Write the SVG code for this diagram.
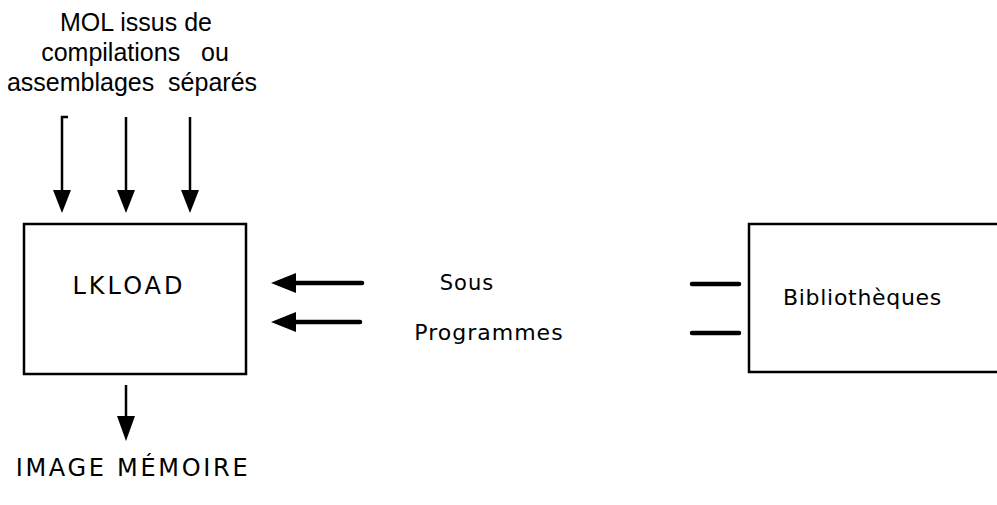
<svg xmlns="http://www.w3.org/2000/svg" width="997" height="505" viewBox="0 0 997 505">
  <style>
    .box { fill: #ffffff; stroke: #000000; stroke-width: 2.5; }
    .thin { stroke: #000000; stroke-width: 2.5; fill: none; }
    .thick { stroke: #000000; stroke-width: 4.5; fill: none; stroke-linecap: round; }
    .head { fill: #000000; }
    .arial { font-family: "Liberation Sans", Arial, sans-serif; font-size: 25px; fill: #000000; }
    .lbl { font-family: "DejaVu Sans", Verdana, sans-serif; font-size: 21px; fill: #000000; letter-spacing: 1px; }
  </style>
  <rect width="997" height="505" fill="#ffffff"/>

  <!-- input caption -->
  <g id="inputs-label">
    <text class="arial" x="136" y="31" text-anchor="middle">MOL issus de</text>
    <text class="arial" x="135" y="61" text-anchor="middle" xml:space="preserve">compilations   ou</text>
    <text class="arial" x="132" y="91" text-anchor="middle" xml:space="preserve">assemblages  séparés</text>
  </g>

  <!-- linker -->
  <g id="lkload">
    <rect class="box" x="24" y="224" width="222" height="150"/>
    <text class="lbl" x="129" y="294" text-anchor="middle" style="font-size:24px;letter-spacing:3px">LKLOAD</text>
  </g>

  <!-- libraries (box runs off the right edge) -->
  <g id="bibliotheques">
    <path class="box" d="M 999 224 L 749 224 L 749 372 L 999 372"/>
    <text class="lbl" x="783" y="305" style="font-size:22px;letter-spacing:0.7px">Bibliothèques</text>
  </g>

  <g id="sous-programmes">
    <text class="lbl" x="467" y="290" text-anchor="middle">Sous</text>
    <text class="lbl" x="489" y="340" text-anchor="middle" style="font-size:22px">Programmes</text>
  </g>

  <g id="image-memoire">
    <text class="lbl" x="133" y="476" text-anchor="middle" style="font-size:24px;letter-spacing:2.7px">IMAGE MÉMOIRE</text>
  </g>

  <!-- connectors -->
  <g id="connectors">
    <!-- three inputs into LKLOAD -->
    <path class="thin" d="M 68 117 L 62 117 L 62 192"/>
    <polygon class="head" points="53,190 71,190 62,213"/>
    <path class="thin" d="M 126 117 L 126 192"/>
    <polygon class="head" points="117,190 135,190 126,213"/>
    <path class="thin" d="M 190 117 L 190 192"/>
    <polygon class="head" points="181,190 199,190 190,213"/>

    <!-- sub-programs into LKLOAD -->
    <path class="thick" d="M 362 283 L 290 283"/>
    <polygon class="head" points="271,283 296,273 296,293"/>
    <path class="thick" d="M 360 322 L 290 322"/>
    <polygon class="head" points="271,322 296,312 296,332"/>

    <!-- stubs from the libraries -->
    <path class="thick" d="M 692 284 L 739 284"/>
    <path class="thick" d="M 692 333 L 739 333"/>

    <!-- output of LKLOAD -->
    <path class="thin" d="M 126 385 L 126 418"/>
    <polygon class="head" points="117,416 135,416 126,441"/>
  </g>
</svg>
